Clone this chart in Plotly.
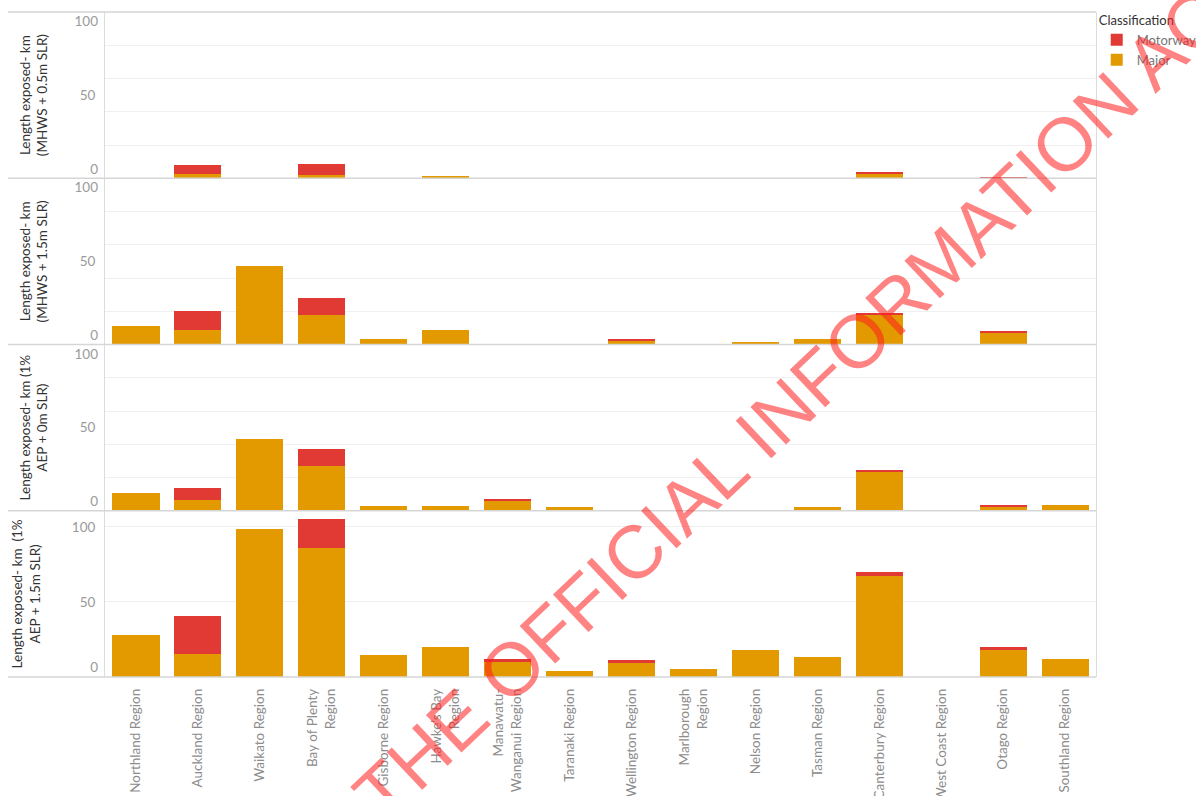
import plotly.graph_objects as go
from plotly.subplots import make_subplots

regions = ["Northland Region", "Auckland Region", "Waikato Region", "Bay of Plenty Region",
           "Gisborne Region", "Hawke's Bay Region", "Manawatu-Wanganui Region", "Taranaki Region",
           "Wellington Region", "Marlborough Region", "Nelson Region", "Tasman Region",
           "Canterbury Region", "West Coast Region", "Otago Region", "Southland Region"]
tick_labels = ["Northland Region", "Auckland Region", "Waikato Region", "Bay of Plenty<br>Region",
               "Gisborne Region", "Hawke's Bay<br>Region", "Manawatu-<br>Wanganui Region", "Taranaki Region",
               "Wellington Region", "Marlborough<br>Region", "Nelson Region", "Tasman Region",
               "Canterbury Region", "West Coast Region", "Otago Region", "Southland Region"]

scenarios = ["Length exposed- km<br>(MHWS + 0.5m SLR)",
             "Length exposed- km<br>(MHWS + 1.5m SLR)",
             "Length exposed- km (1%<br>AEP + 0m SLR)",
             "Length exposed- km  (1%<br>AEP + 1.5m SLR)"]

major_mhws05 = [0, 2.4, 0, 1.8, 0, 1.1, 0, 0, 0, 0, 0, 0, 2.8, 0, 0, 0]
motorway_mhws05 = [0, 5.8, 0, 6.6, 0, 0, 0, 0, 0, 0, 0, 0, 0.6, 0, 0.4, 0]

major_mhws15 = [11.3, 8.8, 47.2, 17.8, 3.4, 8.8, 0, 0, 2.4, 0, 1.6, 3.4, 18.0, 0, 7.1, 0]
motorway_mhws15 = [0, 11.5, 0, 10.2, 0, 0, 0, 0, 1.0, 0, 0, 0, 0.6, 0, 0.5, 0]

major_aep0 = [10.4, 6.2, 43.0, 27.0, 2.8, 2.8, 6.0, 2.0, 0.1, 0.5, 0.3, 2.0, 23.4, 0, 3.1, 3.3]
motorway_aep0 = [0, 7.6, 0, 10.2, 0, 0, 1.2, 0, 0.3, 0, 0, 0, 1.2, 0, 0.5, 0]

major_aep15 = [28.0, 15.1, 98.5, 86.2, 14.4, 20.2, 10.7, 3.8, 9.3, 5.1, 18.0, 13.3, 67.3, 0, 18.7, 12.0]
motorway_aep15 = [0, 25.6, 0, 19.3, 0, 0, 1.1, 0, 2.3, 0, 0, 0, 2.7, 0, 1.3, 0]

majors = [major_mhws05, major_mhws15, major_aep0, major_aep15]
motorways = [motorway_mhws05, motorway_mhws15, motorway_aep0, motorway_aep15]
y_max = [100, 100, 100, 110.8]

MAJOR_COLOR = "#E39A00"
MOTOR_COLOR = "#E13A34"
FONT = "Lato"
GRID = "#f0f0f0"
SEP = "#d6d6d6"
TICK_COLOR = "#9a9a9a"

fig = make_subplots(rows=4, cols=1, shared_xaxes=True, vertical_spacing=0)

for r in range(4):
    fig.add_trace(go.Bar(x=regions, y=majors[r], name="Major", marker_color=MAJOR_COLOR,
                         marker_line_width=0, legendgroup="Major", showlegend=(r == 0)),
                  row=r + 1, col=1)
    fig.add_trace(go.Bar(x=regions, y=motorways[r], name="Motorway", marker_color=MOTOR_COLOR,
                         marker_line_width=0, legendgroup="Motorway", showlegend=(r == 0)),
                  row=r + 1, col=1)

tickfont = dict(family=FONT, size=13.5, color=TICK_COLOR)

for r in range(4):
    yname = "yaxis" if r == 0 else f"yaxis{r + 1}"
    center_ticks = [50] if r < 3 else [50, 100]
    fig.layout[yname].update(
        range=[0, y_max[r]], tickmode="array", tickvals=center_ticks,
        ticktext=[str(v) for v in center_ticks], showgrid=(r == 3), gridcolor=GRID,
        zeroline=False, showline=True, mirror=True, linecolor="#dcdcdc", linewidth=1,
        ticks="", tickfont=tickfont, ticklabelstandoff=6, automargin=False,
        title=dict(text=scenarios[r], font=dict(family=FONT, size=13.5, color="#333333"), standoff=28),
    )
    if r < 3:
        fig.layout[yname].update(minor=dict(tickmode="linear", tick0=0, dtick=20, showgrid=True,
                                            gridcolor=GRID, ticks=""))

# overlay axes for edge labels (0 bottom-aligned, 100 top-aligned)
ov = 5
anchor_x = ["x", "x2", "x3", "x4"]
base_y = ["y", "y2", "y3", "y4"]
for r in range(4):
    edge = [(0, "outside top")]
    if r < 3:
        edge.append((100, "outside bottom"))
    for val, pos in edge:
        name = f"yaxis{ov}"
        fig.layout[name] = dict(overlaying=base_y[r], anchor=anchor_x[r], side="left",
                                range=[0, y_max[r]], tickmode="array", tickvals=[val],
                                ticktext=[str(val)], ticklabelposition=pos, showgrid=False,
                                zeroline=False, showline=False, ticks="", tickfont=tickfont,
                                ticklabelstandoff=6, automargin=False)
        fig.add_trace(go.Scatter(x=[], y=[], xaxis=anchor_x[r], yaxis=f"y{ov}",
                                 showlegend=False, hoverinfo="skip"))
        ov += 1

for r in range(4):
    xname = "xaxis" if r == 0 else f"xaxis{r + 1}"
    fig.layout[xname].update(showgrid=False, zeroline=False, showline=False, ticks="",
                             categoryorder="array", categoryarray=regions, automargin=False)
fig.layout.xaxis4.update(tickmode="array", tickvals=regions, ticktext=tick_labels,
                         tickangle=-90, ticklabelstandoff=8,
                         tickfont=dict(family=FONT, size=13.5, color="#8c8c8c"))

# panel separators
for yv in [0, 0.25, 0.5, 0.75, 1.0]:
    fig.add_shape(type="line", xref="paper", yref="paper", x0=-0.098, x1=1.0, y0=yv, y1=yv,
                  line=dict(color=SEP, width=1.5), layer="above")

fig.add_annotation(text="THE OFFICIAL INFORMATION ACT", xref="paper", yref="paper",
                   x=0.708, y=0.433, xanchor="center", yanchor="middle", textangle=-43.5,
                   showarrow=False,
                   font=dict(family="Liberation Sans", size=75, color="rgba(255,30,30,0.55)"))

fig.update_layout(
    width=1196, height=796,
    margin=dict(l=105, r=100, t=12, b=119, autoexpand=False),
    barmode="stack", bargap=0.24,
    plot_bgcolor="white", paper_bgcolor="white",
    font=dict(family=FONT),
    legend=dict(xref="container", yref="container", x=0.917, y=0.99,
                xanchor="left", yanchor="top", traceorder="reversed",
                title=dict(text="Classification", font=dict(family=FONT, size=13, color="#333333")),
                font=dict(family=FONT, size=13, color="#777777"), itemwidth=30,
                tracegroupgap=0),
)

fig.write_html("out.html")
